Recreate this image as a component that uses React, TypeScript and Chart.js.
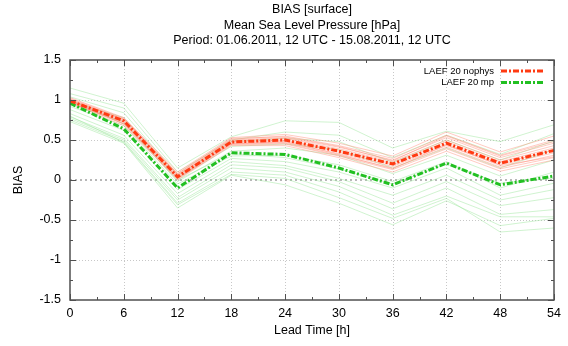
import React, { useEffect, useRef } from "react";
import { Chart, registerables } from "chart.js";

Chart.register(...registerables);

// ---------- data ----------
const leadTimes = [0, 6, 12, 18, 24, 30, 36, 42, 48, 54];
const xTicks = [0, 6, 12, 18, 24, 30, 36, 42, 48, 54];
const yTicks = [-1.5, -1, -0.5, 0, 0.5, 1, 1.5];

const titleLines = [
  "BIAS [surface]",
  "Mean Sea Level Pressure [hPa]",
  "Period: 01.06.2011, 12 UTC - 15.08.2011, 12 UTC",
];
const xTitle = "Lead Time [h]";
const yTitle = "BIAS";
const nophysLabel = "LAEF 20 nophys";
const mpLabel = "LAEF 20 mp";

const nophysMean = [0.99, 0.74, 0.04, 0.475, 0.5, 0.36, 0.2, 0.46, 0.21, 0.37];
const mpMean = [0.96, 0.64, -0.1, 0.34, 0.32, 0.15, -0.06, 0.21, -0.06, 0.05];

const nophysMembers = [
  [1.03, 0.78, 0.1, 0.53, 0.57, 0.46, 0.3, 0.6, 0.35, 0.55],
  [1.02, 0.77, 0.08, 0.51, 0.55, 0.43, 0.27, 0.56, 0.31, 0.5],
  [1.01, 0.76, 0.07, 0.5, 0.53, 0.41, 0.25, 0.53, 0.28, 0.46],
  [1.0, 0.75, 0.06, 0.49, 0.52, 0.39, 0.23, 0.5, 0.25, 0.43],
  [0.99, 0.74, 0.05, 0.48, 0.5, 0.37, 0.21, 0.48, 0.23, 0.4],
  [0.99, 0.73, 0.04, 0.47, 0.49, 0.35, 0.19, 0.45, 0.21, 0.37],
  [0.98, 0.72, 0.03, 0.46, 0.47, 0.33, 0.17, 0.43, 0.19, 0.34],
  [0.97, 0.71, 0.02, 0.45, 0.46, 0.31, 0.15, 0.41, 0.16, 0.31],
  [0.97, 0.7, 0.01, 0.44, 0.45, 0.3, 0.13, 0.39, 0.14, 0.28],
  [0.96, 0.68, 0.0, 0.43, 0.43, 0.28, 0.1, 0.36, 0.11, 0.25],
  [1.0, 0.76, 0.08, 0.52, 0.54, 0.42, 0.24, 0.55, 0.3, 0.48],
  [0.98, 0.7, 0.03, 0.45, 0.48, 0.32, 0.14, 0.44, 0.18, 0.29],
];

const mpMembers = [
  [1.15, 0.96, 0.15, 0.54, 0.74, 0.72, 0.4, 0.61, 0.48, 0.69],
  [1.08, 0.9, 0.1, 0.5, 0.6, 0.56, 0.28, 0.56, 0.32, 0.58],
  [1.04, 0.84, 0.06, 0.48, 0.52, 0.48, 0.22, 0.5, 0.25, 0.49],
  [0.98, 0.78, 0.02, 0.42, 0.45, 0.38, 0.15, 0.4, 0.15, 0.38],
  [0.94, 0.73, -0.02, 0.36, 0.4, 0.31, 0.08, 0.31, 0.05, 0.25],
  [0.92, 0.68, -0.05, 0.3, 0.31, 0.19, -0.02, 0.23, -0.1, 0.1],
  [0.88, 0.62, -0.12, 0.27, 0.23, 0.1, -0.1, 0.15, -0.19, -0.04],
  [0.83, 0.56, -0.17, 0.23, 0.18, 0.02, -0.19, 0.06, -0.25, -0.12],
  [0.79, 0.52, -0.22, 0.19, 0.15, -0.02, -0.29, -0.02, -0.32, -0.22],
  [0.77, 0.5, -0.25, 0.15, 0.1, -0.08, -0.36, -0.1, -0.43, -0.37],
  [0.75, 0.48, -0.29, 0.1, 0.06, -0.15, -0.44, -0.2, -0.46, -0.46],
  [0.73, 0.46, -0.35, 0.06, -0.06, -0.29, -0.56, -0.26, -0.57, -0.48],
  [0.8, 0.47, -0.31, 0.07, 0.02, -0.22, -0.48, -0.23, -0.65, -0.6],
  [1.0, 0.7, 0.0, 0.33, 0.28, 0.14, -0.05, 0.2, -0.04, 0.02],
];

// ---------- styles ----------
const FONT = "'Liberation Sans', Arial, Helvetica, sans-serif";
const RED = "rgb(255,58,18)";
const GREEN = "rgb(34,192,34)";
const RED_LIGHT = "rgba(255,140,120,0.45)";
const GREEN_LIGHT = "rgba(150,228,150,0.45)";
const MAIN_DASH = [6, 2, 2, 2];

const toPoints = (arr: number[]) => arr.map((v, i) => ({ x: leadTimes[i], y: v }));

const framePlugin = {
  id: "gnuplotFrame",
  beforeDatasetsDraw(chart: any) {
    const { ctx, chartArea: a, scales } = chart;
    const xs = scales.x;
    const ys = scales.y;
    ctx.save();
    ctx.strokeStyle = "#c8c8c8";
    ctx.lineWidth = 1;
    ctx.setLineDash([1, 2]);
    xTicks.forEach((t) => {
      if (t === xTicks[0] || t === xTicks[xTicks.length - 1]) return;
      const px = Math.round(xs.getPixelForValue(t)) + 0.5;
      ctx.beginPath();
      ctx.moveTo(px, a.top);
      ctx.lineTo(px, a.bottom);
      ctx.stroke();
    });
    yTicks.forEach((t) => {
      if (t === 0 || t === yTicks[0] || t === yTicks[yTicks.length - 1]) return;
      const py = Math.round(ys.getPixelForValue(t)) + 0.5;
      ctx.beginPath();
      ctx.moveTo(a.left, py);
      ctx.lineTo(a.right, py);
      ctx.stroke();
    });
    ctx.strokeStyle = "#a0a0a0";
    ctx.lineWidth = 1.5;
    ctx.setLineDash([2, 3]);
    const zy = ys.getPixelForValue(0);
    ctx.beginPath();
    ctx.moveTo(a.left, zy);
    ctx.lineTo(a.right, zy);
    ctx.stroke();
    ctx.restore();
  },
  afterDatasetsDraw(chart: any) {
    const { ctx, chartArea: a, scales } = chart;
    const xs = scales.x;
    const ys = scales.y;
    ctx.save();
    ctx.setLineDash([]);
    ctx.strokeStyle = "#505050";
    ctx.lineWidth = 1;
    const tick = (x1: number, y1: number, x2: number, y2: number) => {
      ctx.beginPath();
      ctx.moveTo(x1, y1);
      ctx.lineTo(x2, y2);
      ctx.stroke();
    };
    xTicks.forEach((t, i) => {
      const px = Math.round(xs.getPixelForValue(t)) + 0.5;
      tick(px, a.bottom, px, a.bottom - 6);
      tick(px, a.top, px, a.top + 6);
      if (i < xTicks.length - 1) {
        const mx = Math.round(xs.getPixelForValue((t + xTicks[i + 1]) / 2)) + 0.5;
        tick(mx, a.bottom, mx, a.bottom - 3);
        tick(mx, a.top, mx, a.top + 3);
      }
    });
    yTicks.forEach((t, i) => {
      const py = Math.round(ys.getPixelForValue(t)) + 0.5;
      tick(a.left, py, a.left + 6, py);
      tick(a.right, py, a.right - 6, py);
      if (i < yTicks.length - 1) {
        const my = Math.round(ys.getPixelForValue((t + yTicks[i + 1]) / 2)) + 0.5;
        tick(a.left, my, a.left + 3, my);
        tick(a.right, my, a.right - 3, my);
      }
    });
    ctx.lineWidth = 1.5;
    ctx.strokeStyle = "#505050";
    ctx.strokeRect(a.left, a.top, a.right - a.left, a.bottom - a.top);

    const entries = [
      { label: nophysLabel, color: RED },
      { label: mpLabel, color: GREEN },
    ];
    ctx.font = `9.5px ${FONT}`;
    ctx.textAlign = "right";
    ctx.textBaseline = "middle";
    entries.forEach((e, i) => {
      const y = a.top + 11 + i * 11.5;
      ctx.fillStyle = "#000";
      ctx.fillText(e.label, a.right - 60, y);
      ctx.strokeStyle = e.color;
      ctx.lineWidth = 3;
      ctx.setLineDash(MAIN_DASH);
      ctx.beginPath();
      ctx.moveTo(a.right - 53, y);
      ctx.lineTo(a.right - 10, y);
      ctx.stroke();
    });
    ctx.restore();
  },
};

export default function App() {
  const canvasRef = useRef<HTMLCanvasElement | null>(null);

  useEffect(() => {
    const canvas = canvasRef.current;
    if (!canvas) return;

    const datasets: any[] = [];
    mpMembers.forEach((m, i) =>
      datasets.push({
        label: `mp member ${i + 1}`,
        data: toPoints(m),
        borderColor: GREEN_LIGHT,
        borderWidth: 1,
        pointRadius: 0,
        order: 4,
      })
    );
    nophysMembers.forEach((m, i) =>
      datasets.push({
        label: `nophys member ${i + 1}`,
        data: toPoints(m),
        borderColor: RED_LIGHT,
        borderWidth: 1,
        pointRadius: 0,
        order: 3,
      })
    );
    datasets.push({
      label: mpLabel,
      data: toPoints(mpMean),
      borderColor: GREEN,
      borderWidth: 3,
      borderDash: MAIN_DASH,
      pointRadius: 0,
      order: 1,
    });
    datasets.push({
      label: nophysLabel,
      data: toPoints(nophysMean),
      borderColor: RED,
      borderWidth: 3,
      borderDash: MAIN_DASH,
      pointRadius: 0,
      order: 0,
    });

    const chart = new Chart(canvas, {
      type: "line",
      data: { datasets },
      options: {
        responsive: false,
        animation: false,
        layout: { padding: { left: 0, right: 14, top: 2, bottom: 0 } },
        plugins: {
          legend: { display: false },
          tooltip: { enabled: false },
          title: {
            display: true,
            text: titleLines,
            fullSize: false,
            color: "#000",
            font: { family: FONT, size: 12.5, weight: "normal", lineHeight: "15.5px" },
            padding: { top: 0, bottom: 11.5 },
          },
        },
        scales: {
          x: {
            type: "linear",
            min: 0,
            max: 54,
            afterBuildTicks: (s: any) => {
              s.ticks = xTicks.map((v) => ({ value: v }));
            },
            afterFit: (s: any) => {
              s.height = 46;
            },
            grid: { display: false, drawTicks: false },
            border: { display: false },
            ticks: {
              color: "#000",
              font: { family: FONT, size: 12.5 },
              padding: 6,
              maxRotation: 0,
              autoSkip: false,
              callback: (v: any) => String(v),
            },
            title: {
              display: true,
              text: xTitle,
              color: "#000",
              font: { family: FONT, size: 12.5 },
              padding: { top: 0, bottom: 8 },
            },
          },
          y: {
            type: "linear",
            min: -1.5,
            max: 1.5,
            afterBuildTicks: (s: any) => {
              s.ticks = yTicks.map((v) => ({ value: v }));
            },
            afterFit: (s: any) => {
              s.width = 70;
            },
            grid: { display: false, drawTicks: false },
            border: { display: false },
            ticks: {
              color: "#000",
              font: { family: FONT, size: 12.5 },
              padding: 9,
              autoSkip: false,
              callback: (v: any) => String(v),
            },
            title: {
              display: true,
              text: yTitle,
              color: "#000",
              font: { family: FONT, size: 12.5 },
              padding: { top: 11, bottom: 0 },
            },
          },
        },
      },
      plugins: [framePlugin],
    });

    return () => chart.destroy();
  }, []);

  return (
    <canvas
      ref={canvasRef}
      width={568}
      height={346}
      style={{ position: "fixed", left: 0, top: 0, width: 568, height: 346, background: "#fff" }}
    />
  );
}
